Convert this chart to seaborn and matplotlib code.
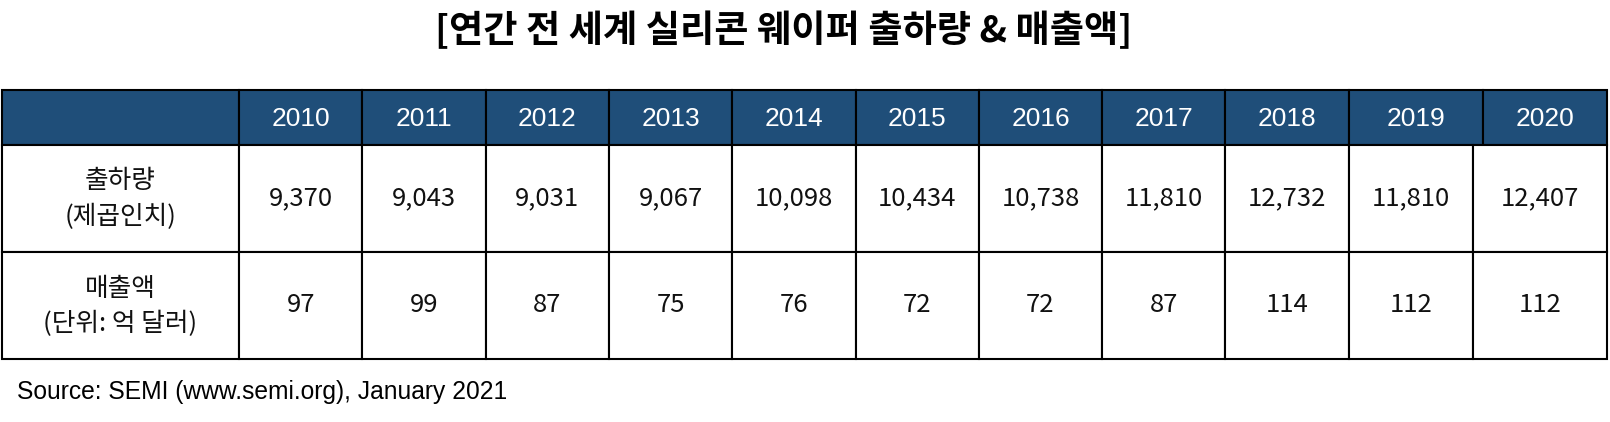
import numpy as np
import matplotlib
matplotlib.use("Agg")
import matplotlib.pyplot as plt
from matplotlib.patches import Rectangle
import seaborn as sns

sns.set_theme(style="white")
plt.rcParams["font.family"] = ["Noto Sans CJK KR", "DejaVu Sans"]

# ---------- data ----------
title = "[연간 전 세계 실리콘 웨이퍼 출하량 & 매출액]"
years = ["2010", "2011", "2012", "2013", "2014", "2015",
         "2016", "2017", "2018", "2019", "2020"]
shipments = [9370, 9043, 9031, 9067, 10098, 10434, 10738, 11810, 12732, 11810, 12407]
revenue = [97, 99, 87, 75, 76, 72, 72, 87, 114, 112, 112]
row_labels = [("출하량", "(제곱인치)"), ("매출액", "(단위: 억 달러)")]
source = "Source: SEMI (www.semi.org), January 2021"

# ---------- layout (pixels) ----------
W, H = 1610, 422
left = 2
label_w = 237
col_w = 123.3
# header and body grids are slightly offset in the last two columns
head_widths = [label_w] + [col_w] * 9 + [134, 124]
body_widths = [label_w] + [col_w] * 9 + [124, 134]
head_top, head_h = 90, 55
row_h = 107
header_color = "#1F4E79"
lw = 1.5

fig = plt.figure(figsize=(W / 100, H / 100), dpi=100)
ax = fig.add_axes([0, 0, 1, 1])
ax.set_xlim(0, W)
ax.set_ylim(H, 0)
ax.axis("off")

# header row
x_edges = left + np.concatenate([[0], np.cumsum(head_widths)])
for i in range(len(head_widths)):
    ax.add_patch(Rectangle((x_edges[i], head_top), head_widths[i], head_h,
                           facecolor=header_color, edgecolor="black", lw=lw))
    if i > 0:
        ax.text((x_edges[i] + x_edges[i + 1]) / 2, head_top + head_h / 2 + 1,
                years[i - 1], ha="center", va="center", color="white",
                fontsize=19, family="Liberation Sans")

# body rows
x_edges = left + np.concatenate([[0], np.cumsum(body_widths)])
rows = [[f"{v:,}" for v in shipments], [f"{v}" for v in revenue]]
for r, vals in enumerate(rows):
    y0 = head_top + head_h + r * row_h
    yc = y0 + row_h / 2
    for i in range(len(body_widths)):
        ax.add_patch(Rectangle((x_edges[i], y0), body_widths[i], row_h,
                               facecolor="white", edgecolor="black", lw=lw))
    xc0 = (x_edges[0] + x_edges[1]) / 2
    ax.text(xc0, yc - 17, row_labels[r][0], ha="center", va="center",
            fontsize=18.5, color="#111111")
    ax.text(xc0, yc + 18, row_labels[r][1], ha="center", va="center",
            fontsize=18.5, color="#111111")
    for i, v in enumerate(vals):
        ax.text((x_edges[i + 1] + x_edges[i + 2]) / 2, yc, v,
                ha="center", va="center", fontsize=18.5, color="#111111")

ax.text(784, 31, title, ha="center", va="center", fontsize=26.8,
        fontweight="bold", color="black")
ax.text(17, 399, source, ha="left", va="baseline", fontsize=17.7,
        family="Liberation Sans", color="black")

fig.savefig("out.png", dpi=100, facecolor="white")
